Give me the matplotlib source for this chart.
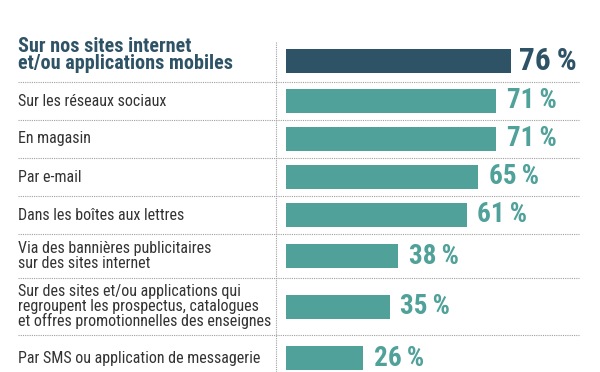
import matplotlib
matplotlib.use("Agg")
import matplotlib.pyplot as plt

plt.rcParams['font.family'] = ['Roboto Condensed', 'DejaVu Sans']

# Data
labels = [
    "Sur nos sites internet\net/ou applications mobiles",
    "Sur les réseaux sociaux",
    "En magasin",
    "Par e-mail",
    "Dans les boîtes aux lettres",
    "Via des bannières publicitaires\nsur des sites internet",
    "Sur des sites et/ou applications qui\nregroupent les prospectus, catalogues\net offres promotionnelles des enseignes",
    "Par SMS ou application de messagerie",
]
values = [76, 71, 71, 65, 61, 38, 35, 26]
highlight = [True, False, False, False, False, False, False, False]

# Colours
dark = '#2e5266'
teal = '#4fa19a'
text_col = '#333333'
sep_col = '#a0a0a0'

# Layout (pixels, figure is 600 x 372)
W, H = 600, 372
row_h = [42, 38, 38, 38, 38, 44, 57, 46]
top = 40
bar_h = 24
bar_left = 286
px_per_pct = 2.96

bounds = [top]
for h in row_h:
    bounds.append(bounds[-1] + h)
centers = [(bounds[i] + bounds[i + 1]) / 2 for i in range(len(row_h))]

fig = plt.figure(figsize=(6, 3.72), dpi=100)

# layout axes in pixel units for labels and separators
lay = fig.add_axes([0, 0, 1, 1])
lay.set_xlim(0, W)
lay.set_ylim(H, 0)
lay.axis('off')

# bar axes: starts at bar_left, 100 % = 296 px
bx = fig.add_axes([bar_left / W, 0, 100 * px_per_pct / W, 1])
bx.set_xlim(0, 100)
bx.set_ylim(H, 0)
bx.axis('off')

colors = [dark if h else teal for h in highlight]
bars = bx.barh(centers, values, height=bar_h, color=colors)

for i, (lab, v, c, hl) in enumerate(zip(labels, values, centers, highlight)):
    if hl:
        lay.text(18, c - 6, lab, ha='left', va='center', fontsize=14.5,
                 fontweight='bold', color=dark, linespacing=0.92)
        bx.text(v + 2.7, c, f"{v}\u2009%", ha='left', va='center',
                fontsize=22.5, fontweight='bold', color=dark)
    else:
        lay.text(18, c, lab, ha='left', va='center', fontsize=11.5,
                 color=text_col, linespacing=0.95)
        bx.text(v + 3.6, c, f"{v}\u2009%", ha='left', va='center',
                fontsize=19.5, fontweight='bold', color=teal)

# dotted separators
for b in bounds[1:-1]:
    lay.plot([18, 579], [b, b], color=sep_col, lw=0.8, ls=(0, (1, 1)))
lay.plot([276, 276], [top + 2, H], color=sep_col, lw=0.8, ls=(0, (1, 1)))

fig.savefig("out.png", dpi=100)
